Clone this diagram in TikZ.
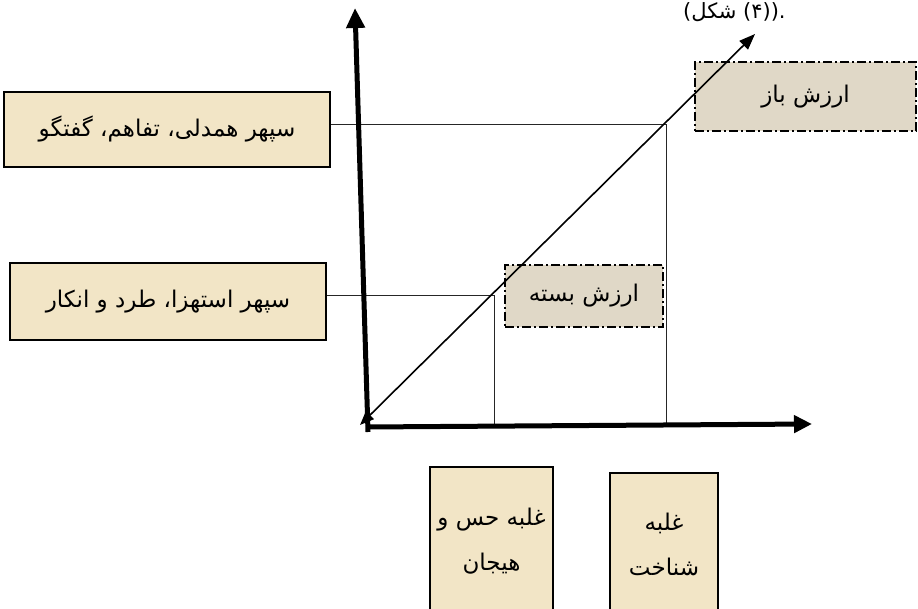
\documentclass[tikz,border=0pt]{standalone}
\usepackage{fontspec}
\usetikzlibrary{arrows.meta}
\TeXXeTstate=1
\newfontfamily\arabicfont[Script=Arabic]{DejaVu Sans}
\newfontfamily\capfont{DejaVu Sans}
\newcommand{\pers}[1]{{\arabicfont\beginR #1\endR}}
\definecolor{parch}{RGB}{242,229,198}
\definecolor{linen}{RGB}{224,216,199}
\tikzset{
  solidbox/.style={draw=black, line width=2.4pt, fill=parch, inner sep=0pt, align=center,
    font=\fontsize{23}{45}\selectfont},
  dashbox/.style={draw=black, line width=2.4pt, fill=linen, inner sep=0pt, align=center,
    dash pattern=on 9pt off 3pt on 2pt off 3pt, font=\fontsize{23}{28}\selectfont},
  axis/.style={line width=5pt, -{Triangle[length=20pt,width=18pt]}},
  diag/.style={line width=1.6pt, {Triangle[length=14pt,width=11pt]}-{Triangle[length=16pt,width=12pt]}},
  guide/.style={line width=0.9pt, draw=black!85}
}
\begin{document}
\begin{tikzpicture}[x=1pt,y=-1pt]
\useasboundingbox (0,0) rectangle (918,609);
% caption fragment (visual order, left to right)
\node[anchor=base west, inner sep=0pt, font=\fontsize{21}{24}\selectfont] (cap) at (683,19)
  {\hbox{\capfont (}\hbox{\arabicfont شکل}\hbox{\capfont \ (}\hbox{\arabicfont ۴}\hbox{\capfont ))}\hbox{\capfont .}};
% coordinates
\coordinate (vbot) at (368,432);
\coordinate (vtop) at (355,8);
\coordinate (hl) at (366,427);
\coordinate (hr) at (812,424);
\coordinate (dl) at (360,425);
\coordinate (dr) at (755,34);
\coordinate (p1) at (666,124);
\coordinate (p2) at (494,295);
% boxes
\node[solidbox, minimum width=326pt, minimum height=75pt] (b1) at (167,129.5) {\pers{سپهر همدلی، تفاهم، گفتگو}};
\node[solidbox, minimum width=316pt, minimum height=77pt] (b2) at (168,301.5) {\pers{سپهر استهزا، طرد و انکار}};
\node[dashbox, minimum width=158pt, minimum height=62pt] (closed) at (584,296) {\pers{ارزش بسته}};
\node[dashbox, minimum width=221pt, minimum height=69pt] (open) at (805.5,96.5) {\pers{ارزش باز}};
\node[solidbox, minimum width=123pt, minimum height=148pt] (ga) at (491.5,541) {\pers{غلبه حس و}\\\pers{هیجان}};
\node[solidbox, minimum width=108pt, minimum height=142pt] (gb) at (664,544) {\pers{غلبه}\\\pers{شناخت}};
% guide lines
\draw[guide] (p1 -| b1.east) -- (p1) -- (p1 |- hl);
\draw[guide] (p2 -| b2.east) -- (p2) -- (p2 |- hl);
% axes
\draw[diag] (dl) -- (dr);
\draw[axis] (vbot) -- (vtop);
\draw[axis, -{Triangle[length=18pt,width=17pt]}] (hl) -- (hr);
\end{tikzpicture}
\end{document}
